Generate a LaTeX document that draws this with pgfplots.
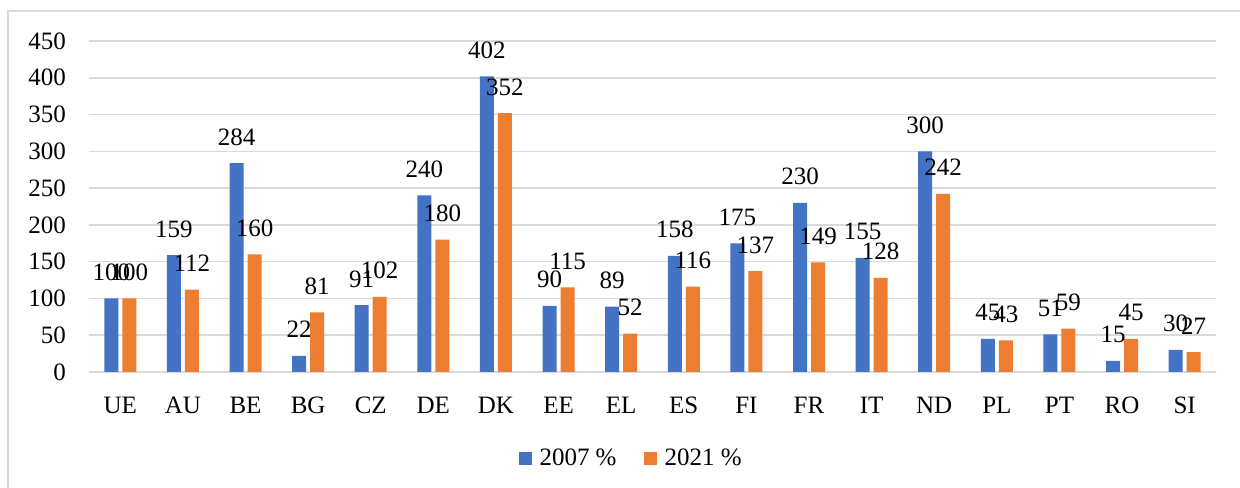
\documentclass[border=0pt]{standalone}
\usepackage{fontspec}
\setmainfont{Liberation Serif}
\usepackage{pgfplots}
\pgfplotsset{compat=1.18}
\definecolor{cblue}{HTML}{4472C4}
\definecolor{corange}{HTML}{ED7D31}
\definecolor{cgrid}{HTML}{D9D9D9}
\newcommand{\myfont}{\fontsize{25bp}{30bp}\selectfont}
\begin{document}
\begin{tikzpicture}
\useasboundingbox (0,0) rectangle (1240bp,488bp);
\fill[white] (0,0) rectangle (1240bp,488bp);
\draw[cgrid, line width=1.5bp] (8bp,0) -- (8bp,477bp) -- (1240bp,477bp);
\begin{axis}[
  at={(89bp,116bp)}, anchor=south west,
  scale only axis, width=1127bp, height=331bp,
  ybar=4bp, bar width=14bp,
  xmin=-0.5, xmax=17.5, ymin=0, ymax=450,
  xtick={0,...,17},
  xticklabels={UE,AU,BE,BG,CZ,DE,DK,EE,EL,ES,FI,FR,IT,ND,PL,PT,RO,SI},
  ytick={0,50,...,450},
  ymajorgrids, grid style={cgrid, line width=1.5bp},
  axis line style={draw=none},
  major tick length=0pt,
  /pgf/number format/assume math mode=true,
  tick label style={font=\myfont, inner sep=0pt},
  yticklabel style={anchor=east, xshift=-23bp},
  xticklabel style={anchor=base, yshift=-41bp},
  nodes near coords,
  nodes near coords style={font=\myfont, anchor=base, inner sep=0pt, yshift=18bp, /pgf/number format/assume math mode=true},
  legend columns=2,
  legend style={draw=none, fill=none, font=\myfont, at={(0.481,-0.26)}, anchor=center,
    /tikz/every even column/.append style={column sep=25bp},
    /tikz/every odd column/.append style={column sep=6bp},
    inner sep=0pt, cells={anchor=west}},
  legend image code/.code={\fill[#1] (0bp,-6.5bp) rectangle (13bp,6.5bp);},
]
\addplot[fill=cblue, draw=none] coordinates {
(0,100) (1,159) (2,284) (3,22) (4,91) (5,240) (6,402) (7,90) (8,89)
(9,158) (10,175) (11,230) (12,155) (13,300) (14,45) (15,51) (16,15) (17,30)};
\addplot[fill=corange, draw=none] coordinates {
(0,100) (1,112) (2,160) (3,81) (4,102) (5,180) (6,352) (7,115) (8,52)
(9,116) (10,137) (11,149) (12,128) (13,242) (14,43) (15,59) (16,45) (17,27)};
\legend{2007 \%, 2021 \%}
\end{axis}
\end{tikzpicture}
\end{document}
